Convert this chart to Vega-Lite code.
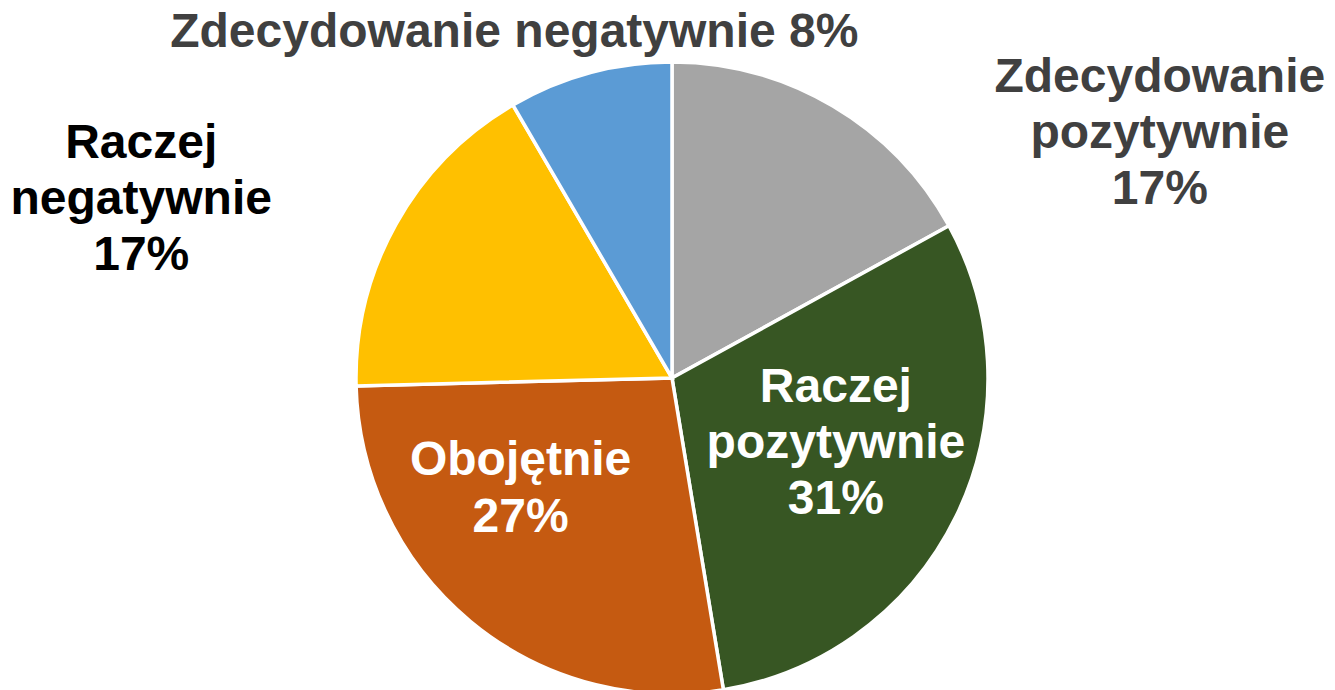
{
  "$schema": "https://vega.github.io/schema/vega-lite/v6.json",
  "width": 1326,
  "height": 624,
  "autosize": {"type": "none"},
  "padding": {"left": 9, "top": 66, "right": 0, "bottom": 0},
  "background": "white",
  "config": {"view": {"stroke": null}},
  "data": {
    "values": [
      {"idx": 1, "category": "Zdecydowanie pozytywnie", "value": 17.0, "label": "Zdecydowanie\npozytywnie\n17%"},
      {"idx": 2, "category": "Raczej pozytywnie", "value": 30.4, "label": "Raczej\npozytywnie\n31%"},
      {"idx": 3, "category": "Obojętnie", "value": 27.2, "label": "Obojętnie\n27%"},
      {"idx": 4, "category": "Raczej negatywnie", "value": 17.0, "label": "Raczej\nnegatywnie\n17%"},
      {"idx": 5, "category": "Zdecydowanie negatywnie", "value": 8.4, "label": "Zdecydowanie negatywnie 8%"}
    ]
  },
  "encoding": {
    "theta": {"field": "value", "type": "quantitative", "stack": true},
    "order": {"field": "idx", "type": "quantitative"}
  },
  "layer": [
    {
      "mark": {"type": "arc", "outerRadius": 316, "stroke": "white", "strokeWidth": 3.5},
      "encoding": {
        "color": {
          "field": "category",
          "type": "nominal",
          "scale": {
            "domain": ["Zdecydowanie pozytywnie", "Raczej pozytywnie", "Obojętnie", "Raczej negatywnie", "Zdecydowanie negatywnie"],
            "range": ["#A5A5A5", "#375623", "#C55A11", "#FFC000", "#5B9BD5"]
          },
          "legend": null
        }
      }
    },
    {
      "mark": {"type": "text", "radius": 420, "dx": 274, "dy": 75.5, "align": "center", "baseline": "alphabetic", "font": "Liberation Sans", "fontWeight": "bold", "fontSize": 48, "lineHeight": 56, "lineBreak": "\n", "color": "#404040"},
      "encoding": {"text": {"condition": {"test": "datum.category === 'Zdecydowanie pozytywnie'", "field": "label"}, "value": ""}}
    },
    {
      "mark": {"type": "text", "radius": 170, "dx": 11, "dy": -50, "align": "center", "baseline": "alphabetic", "font": "Liberation Sans", "fontWeight": "bold", "fontSize": 48, "lineHeight": 56, "lineBreak": "\n", "color": "#FFFFFF"},
      "encoding": {"text": {"condition": {"test": "datum.category === 'Raczej pozytywnie'", "field": "label"}, "value": ""}}
    },
    {
      "mark": {"type": "text", "radius": 170, "dx": -43, "dy": -34, "align": "center", "baseline": "alphabetic", "font": "Liberation Sans", "fontWeight": "bold", "fontSize": 48, "lineHeight": 57, "lineBreak": "\n", "color": "#FFFFFF"},
      "encoding": {"text": {"condition": {"test": "datum.category === 'Obojętnie'", "field": "label"}, "value": ""}}
    },
    {
      "mark": {"type": "text", "radius": 420, "dx": -164, "dy": -15, "align": "center", "baseline": "alphabetic", "font": "Liberation Sans", "fontWeight": "bold", "fontSize": 48, "lineHeight": 56, "lineBreak": "\n", "color": "#000000"},
      "encoding": {"text": {"condition": {"test": "datum.category === 'Raczej negatywnie'", "field": "label"}, "value": ""}}
    },
    {
      "mark": {"type": "text", "radius": 340, "dx": -69, "dy": -3, "align": "center", "baseline": "alphabetic", "font": "Liberation Sans", "fontWeight": "bold", "fontSize": 48, "lineHeight": 56, "lineBreak": "\n", "color": "#404040"},
      "encoding": {"text": {"condition": {"test": "datum.category === 'Zdecydowanie negatywnie'", "field": "label"}, "value": ""}}
    }
  ]
}
